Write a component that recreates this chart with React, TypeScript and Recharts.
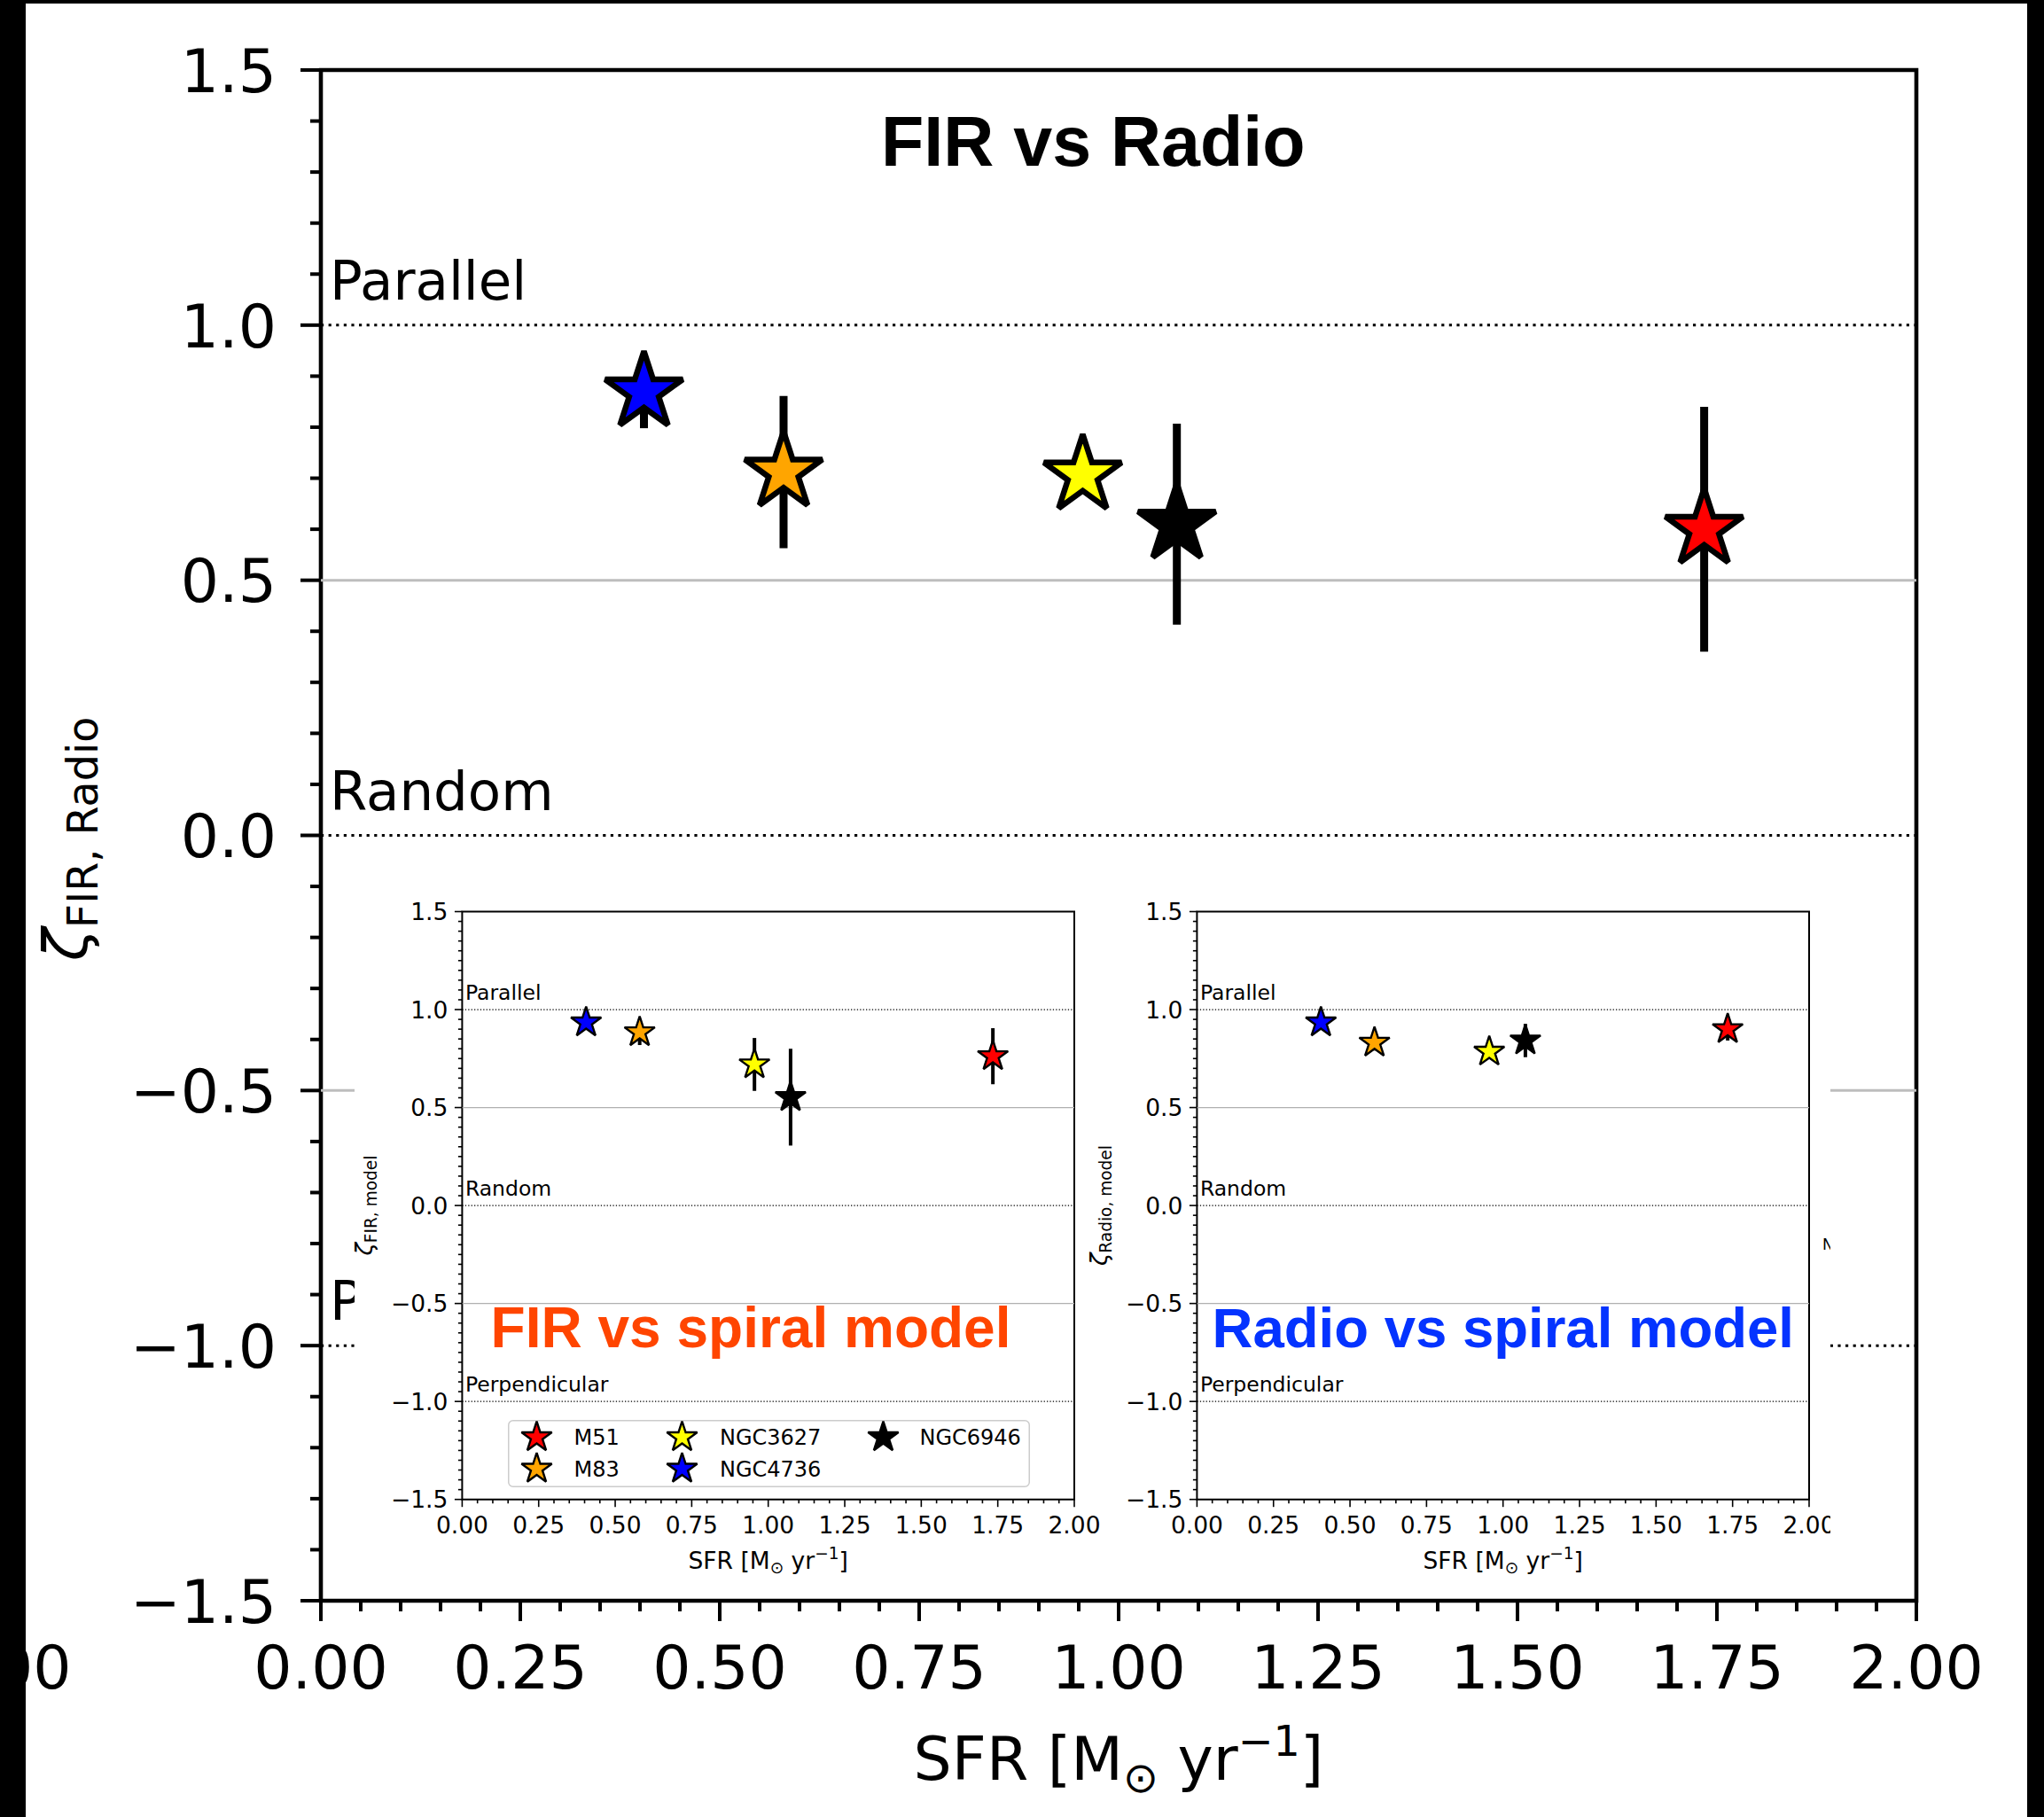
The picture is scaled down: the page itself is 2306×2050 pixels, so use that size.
import React from 'react';
import { ScatterChart, Scatter, XAxis, YAxis, ReferenceLine, ReferenceArea, ErrorBar, Legend } from 'recharts';

// galaxies, in legend order
const galaxies = ['M51', 'M83', 'NGC3627', 'NGC4736', 'NGC6946'];
const galaxyColors = ['#ff0000', '#ffa500', '#ffff00', '#0000ff', '#000000'];
const sfr = [1.734, 0.58, 0.955, 0.405, 1.073];

// main panel: zeta FIR vs Radio
const zetaFirRadio = [0.6, 0.712, 0.706, 0.869, 0.61];
const errFirRadio = [0.24, 0.149, 0.02, 0.071, 0.197];

// inset: FIR vs spiral model
const zetaFirModel = [0.762, 0.884, 0.72, 0.934, 0.553];
const errFirModel = [0.143, 0.065, 0.135, 0.02, 0.247];

// inset: Radio vs spiral model
const zetaRadioModel = [0.9, 0.831, 0.785, 0.934, 0.842];
const errRadioModel = [0.058, 0.04, 0.03, 0.02, 0.085];

const yMajorTicks = [-1.5, -1, -0.5, 0, 0.5, 1, 1.5];
const xMajorTicks = [0, 0.25, 0.5, 0.75, 1, 1.25, 1.5, 1.75, 2];
const dottedLevels = [1, 0, -1];
const dottedLabels = ['Parallel', 'Random', 'Perpendicular'];
const grayLevels = [0.5, -0.5];

const MPL_FONT = "'DejaVu Sans', sans-serif";
const TITLE_FONT = "'Liberation Sans', Arial, sans-serif";

const steps = (lo: number, hi: number, step: number) => {
  const n = Math.round((hi - lo) / step);
  return Array.from({ length: n + 1 }, (_, k) => +(lo + k * step).toFixed(4));
};
const isMajor = (v: number, majors: number[]) => majors.some((m) => Math.abs(m - v) < 1e-6);
const fmtY = (v: number) => v.toFixed(1).replace('-', '\u2212');
const fmtX = (v: number) => v.toFixed(2);

type PanelStyle = {
  id: string;
  width: number; height: number;
  plotLeft: number; plotTop: number; plotRight: number; plotBottom: number;
  yAxisWidth: number; xAxisHeight: number;
  tickFont: number; textFont: number;
  majorLen: number; minorLen: number; tickWidth: number;
  yLabelGap: number; yLabelDy: number; xLabelDy: number;
  frameWidth: number; dotWidth: number; dotDash: string; grayWidth: number; grayColor: string;
  textDx: number; textDy: number; textClipRight?: number;
  starR: number; starStroke: number; errWidth: number;
  xMinor: number; yMinor: number;
  zetaOffset: number; zetaShift: number; zetaSubDy: number; xTitleDy: number;
};

const mainStyle: PanelStyle = {
  id: 'main',
  width: 2306, height: 2050,
  plotLeft: 362, plotTop: 79, plotRight: 2162, plotBottom: 1806,
  yAxisWidth: 200, xAxisHeight: 150,
  tickFont: 68, textFont: 61,
  majorLen: 23, minorLen: 12, tickWidth: 4,
  yLabelGap: 50, yLabelDy: 24.8, xLabelDy: 99,
  frameWidth: 4.6, dotWidth: 3, dotDash: '3.2 5.4', grayWidth: 3, grayColor: '#bdbdbd',
  textDx: 10, textDy: 29, textClipRight: 400,
  starR: 46, starStroke: 6.5, errWidth: 9,
  xMinor: 0.05, yMinor: 0.1,
  zetaOffset: 264, zetaShift: 4, zetaSubDy: 12, xTitleDy: 202,
};

const insetBase = {
  height: 810,
  plotTop: 43.5, plotBottom: 706.7,
  yAxisWidth: 80, xAxisHeight: 50,
  tickFont: 26.5, textFont: 23.5,
  majorLen: 8.5, minorLen: 4.5, tickWidth: 1.6,
  yLabelGap: 16, yLabelDy: 9.7, xLabelDy: 38.3,
  frameWidth: 2, dotWidth: 1.3, dotDash: '1.3 2.1', grayWidth: 1.3, grayColor: '#b0b0b0',
  textDx: 3.5, textDy: 11,
  starR: 18, starStroke: 2.4, errWidth: 4,
  xMinor: 0.05, yMinor: 0.05,
  zetaOffset: 101, zetaShift: 0, zetaSubDy: 4.7, xTitleDy: 78,
};
const leftInsetStyle: PanelStyle = { ...insetBase, id: 'fir', width: 860, plotLeft: 131.4, plotRight: 822 };
const rightInsetStyle: PanelStyle = { ...insetBase, id: 'radio', width: 840, plotLeft: 125.4, plotRight: 816 };

function StarShape({ cx, cy, r, sw, fill }: { cx?: number; cy?: number; r: number; sw: number; fill: string }) {
  if (cx == null || cy == null) return null;
  const pts: string[] = [];
  for (let k = 0; k < 10; k++) {
    const rad = k % 2 === 0 ? r : r * 0.381966;
    const a = -Math.PI / 2 + (k * Math.PI) / 5;
    pts.push(`${(cx + rad * Math.cos(a)).toFixed(2)},${(cy + rad * Math.sin(a)).toFixed(2)}`);
  }
  return <path d={`M${pts.join('L')}Z`} fill={fill} stroke="#000" strokeWidth={sw} strokeLinejoin="miter" strokeMiterlimit={2.5} />;
}

function SfrLabel({ x, y, size }: { x: number; y: number; size: number }) {
  return (
    <text x={x} y={y} textAnchor="middle" fontFamily={MPL_FONT} fontSize={size} fill="#000">
      SFR [M
      <tspan fontSize={size * 0.7} dy={size * 0.2}>{'\u2299'}</tspan>
      <tspan dy={-size * 0.2}>{' yr'}</tspan>
      <tspan fontSize={size * 0.7} dy={-size * 0.4}>{'\u22121'}</tspan>
      <tspan dy={size * 0.4}>]</tspan>
    </text>
  );
}

function ZetaLabel({ x, y, size, subDy, sub }: { x: number; y: number; size: number; subDy: number; sub: string }) {
  return (
    <g transform={`translate(${x},${y}) rotate(-90)`}>
      <text x={0} y={0} textAnchor="middle" fontFamily={MPL_FONT} fontSize={size} fill="#000">
        <tspan fontStyle="italic">{'\u03b6'}</tspan>
        <tspan fontSize={size * 0.7} dy={subDy}>{sub}</tspan>
      </text>
    </g>
  );
}

const legendMarkerX = [32.5, 196.5, 423.5];
const legendTextX = [74.5, 239, 464.5];
const legendRowY = [19.6, 55.1];

function InsetLegend({ payload }: { payload?: any[] }) {
  return (
    <svg width={589} height={76} style={{ display: 'block' }}>
      <rect x={0.75} y={0.75} width={587.5} height={74.5} rx={5} fill="#fff" fillOpacity={0.8} stroke="#cccccc" strokeWidth={1.5} />
      {galaxies.map((name, i) => {
        const col = Math.floor(i / 2);
        const row = i % 2;
        const label = payload?.[i]?.value ?? name;
        return (
          <g key={name}>
            <StarShape cx={legendMarkerX[col]} cy={legendRowY[row]} r={18} sw={2.4} fill={galaxyColors[i]} />
            <text x={legendTextX[col]} y={legendRowY[row] + 8.7} fontFamily={MPL_FONT} fontSize={24} fill="#000">{label}</text>
          </g>
        );
      })}
    </svg>
  );
}

function Panel({ s, ys, errs, sub, legend }: { s: PanelStyle; ys: number[]; errs: number[]; sub: string; legend?: boolean }) {
  const plotW = s.plotRight - s.plotLeft;
  const plotH = s.plotBottom - s.plotTop;
  const margin = {
    top: s.plotTop,
    right: s.width - s.plotRight,
    left: s.plotLeft - s.yAxisWidth,
    bottom: s.height - s.plotBottom - s.xAxisHeight,
  };
  const xTicks = steps(0, 2, s.xMinor);
  const yTicks = steps(-1.5, 1.5, s.yMinor);

  const xTick = (props: any) => {
    const { x, y, payload } = props;
    const v = payload?.value;
    const major = isMajor(v, xMajorTicks);
    return (
      <g>
        <line x1={x} x2={x} y1={y} y2={y + (major ? s.majorLen : s.minorLen)} stroke="#000" strokeWidth={s.tickWidth} />
        {major && (
          <text x={x} y={y + s.xLabelDy} textAnchor="middle" fontFamily={MPL_FONT} fontSize={s.tickFont} fill="#000">
            {fmtX(v)}
          </text>
        )}
      </g>
    );
  };
  const yTick = (props: any) => {
    const { x, y, payload } = props;
    const v = payload?.value;
    const major = isMajor(v, yMajorTicks);
    return (
      <g>
        <line x1={x - (major ? s.majorLen : s.minorLen)} x2={x} y1={y} y2={y} stroke="#000" strokeWidth={s.tickWidth} />
        {major && (
          <text x={x - s.yLabelGap} y={y + s.yLabelDy} textAnchor="end" fontFamily={MPL_FONT} fontSize={s.tickFont} fill="#000">
            {fmtY(v)}
          </text>
        )}
      </g>
    );
  };

  const clipId = `textclip-${s.id}`;

  return (
    <ScatterChart width={s.width} height={s.height} margin={margin}>
      <XAxis
        type="number" dataKey="x" domain={[0, 2]} ticks={xTicks} interval={0} allowDataOverflow
        tick={xTick} tickLine={false} axisLine={false} tickSize={0} tickMargin={0} height={s.xAxisHeight}
        label={() => <SfrLabel x={s.plotLeft + plotW / 2} y={s.plotBottom + s.xTitleDy} size={s.tickFont} />}
      />
      <YAxis
        type="number" dataKey="y" domain={[-1.5, 1.5]} ticks={yTicks} interval={0} allowDataOverflow
        tick={yTick} tickLine={false} axisLine={false} tickSize={0} tickMargin={0} width={s.yAxisWidth}
        label={() => (
          <ZetaLabel x={s.plotLeft - s.zetaOffset} y={s.plotTop + plotH / 2 + s.zetaShift} size={s.tickFont} subDy={s.zetaSubDy} sub={sub} />
        )}
      />
      {grayLevels.map((lvl) => (
        <ReferenceLine key={`g${lvl}`} y={lvl} stroke={s.grayColor} strokeWidth={s.grayWidth} />
      ))}
      {dottedLevels.map((lvl, i) => (
        <ReferenceLine
          key={`d${lvl}`} y={lvl} stroke="#000" strokeWidth={s.dotWidth} strokeDasharray={s.dotDash}
          label={(p: any) => {
            const ty = (p?.viewBox?.y ?? s.plotTop + ((1.5 - lvl) / 3) * plotH) - s.textDy;
            // the lowest main-panel label is hidden behind the insets, only its first letter shows
            const clipped = s.textClipRight != null && lvl < 0;
            return (
              <g>
                {clipped && (
                  <defs>
                    <clipPath id={clipId}>
                      <rect x={0} y={0} width={s.textClipRight} height={s.height} />
                    </clipPath>
                  </defs>
                )}
                <text
                  x={(p?.viewBox?.x ?? s.plotLeft) + s.textDx} y={ty}
                  fontFamily={MPL_FONT} fontSize={s.textFont} fill="#000"
                  clipPath={clipped ? `url(#${clipId})` : undefined}
                >
                  {dottedLabels[i]}
                </text>
              </g>
            );
          }}
        />
      ))}
      <ReferenceArea x1={0} x2={2} y1={-1.5} y2={1.5} fill="none" stroke="#000" strokeWidth={s.frameWidth} ifOverflow="visible" />
      {galaxies.map((name, i) => (
        <Scatter
          key={name}
          name={name}
          data={[{ x: sfr[i], y: ys[i], err: errs[i] }]}
          fill={galaxyColors[i]}
          isAnimationActive={false}
          shape={(p: any) => <StarShape cx={p.cx} cy={p.cy} r={s.starR} sw={s.starStroke} fill={galaxyColors[i]} />}
        >
          <ErrorBar dataKey="err" direction="y" width={0} stroke="#000" strokeWidth={s.errWidth} isAnimationActive={false} />
        </Scatter>
      ))}
      {legend && (
        <Legend
          layout="vertical" align="center" verticalAlign="middle"
          wrapperStyle={{ position: 'absolute', left: 182.5, top: 617.4, width: 589, height: 76, margin: 0, padding: 0 }}
          content={(props: any) => <InsetLegend payload={props?.payload} />}
        />
      )}
    </ScatterChart>
  );
}

export default function App() {
  return (
    <div style={{ position: 'absolute', left: 0, top: 0, width: 2306, height: 2050, background: '#fff', overflow: 'hidden' }}>
      <div style={{ position: 'absolute', left: 0, top: 0 }}>
        <Panel s={mainStyle} ys={zetaFirRadio} errs={errFirRadio} sub="FIR, Radio" />
      </div>
      <div style={{ position: 'absolute', left: 400, top: 985, width: 1665, height: 810, background: '#fff' }} />
      <div style={{ position: 'absolute', left: 390, top: 985, width: 860, height: 810 }}>
        <Panel s={leftInsetStyle} ys={zetaFirModel} errs={errFirModel} sub="FIR, model" legend />
      </div>
      <div style={{ position: 'absolute', left: 1225, top: 985, width: 840, height: 810, overflow: 'hidden' }}>
        <Panel s={rightInsetStyle} ys={zetaRadioModel} errs={errRadioModel} sub="Radio, model" />
        <svg width={840} height={810} style={{ position: 'absolute', left: 0, top: 0, pointerEvents: 'none' }}>
          <text x={831} y={425} fontFamily={MPL_FONT} fontSize={17} fill="#000">N</text>
        </svg>
      </div>
      <svg width={2306} height={2050} style={{ position: 'absolute', left: 0, top: 0, pointerEvents: 'none' }}>
        <text x={994} y={187} fontFamily={TITLE_FONT} fontWeight="bold" fontSize={79} fill="#000">FIR vs Radio</text>
        <text x={553.6} y={1520} fontFamily={TITLE_FONT} fontWeight="bold" fontSize={64} fill="#ff4500">FIR vs spiral model</text>
        <text x={1367.6} y={1520} fontFamily={TITLE_FONT} fontWeight="bold" fontSize={63.5} fill="#0433ff">Radio vs spiral model</text>
        <text x={80.5} y={1905} textAnchor="end" fontFamily={MPL_FONT} fontSize={68} fill="#000">2.00</text>
      </svg>
      <div style={{ position: 'absolute', left: 0, top: 0, width: 29, height: 2050, background: '#000' }} />
      <div style={{ position: 'absolute', left: 2287, top: 0, width: 19, height: 2050, background: '#000' }} />
      <div style={{ position: 'absolute', left: 0, top: 0, width: 2306, height: 4, background: '#000' }} />
    </div>
  );
}
